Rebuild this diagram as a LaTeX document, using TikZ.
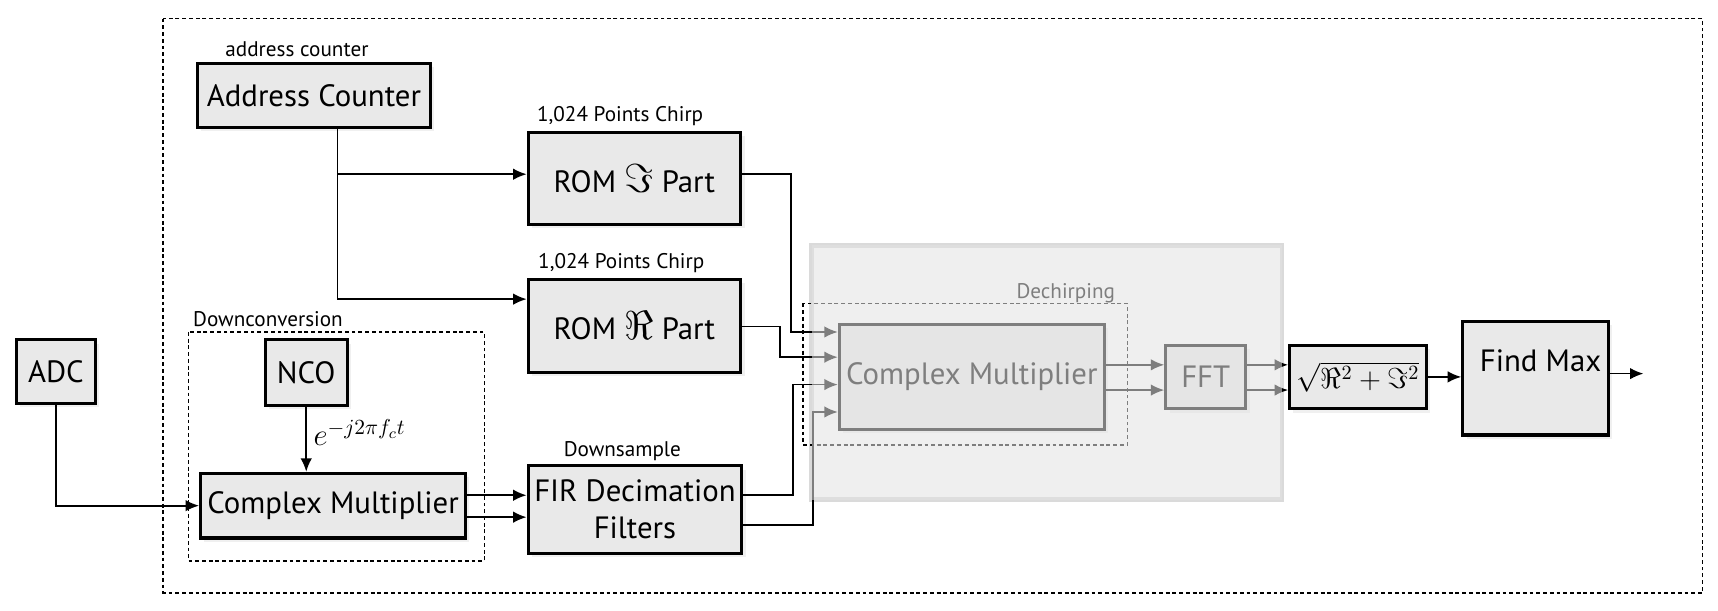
\documentclass[tikz,border=0pt]{standalone}
\usepackage{fix-cm}
\usepackage[no-math]{fontspec}
\setmainfont{PT Sans}
\usetikzlibrary{arrows.meta, shadows}
\definecolor{boxgray}{RGB}{233,233,233}
\definecolor{zonegray}{RGB}{226,226,226}
\definecolor{zoneedge}{RGB}{218,218,218}
\newcommand{\blkfont}{\fontsize{16}{19}\selectfont}
\newcommand{\tagfont}{\fontsize{11}{13}\selectfont}
\newcommand{\bigfrak}[1]{{\fontsize{21}{21}\selectfont$#1$}}

\tikzset{
  blk/.style={draw, line width=1.6pt, fill=boxgray, inner sep=0pt, align=center, font=\blkfont,
    drop shadow={opacity=0.12, shadow xshift=2pt, shadow yshift=-2pt}},
  tag/.style={inner sep=0pt, font=\tagfont},
  wire/.style={-{Latex[length=7pt, width=6pt]}, line width=0.9pt},
  frame/.style={line width=0.8pt, dash pattern=on 2pt off 1.5pt},
}

\begin{document}
\begin{tikzpicture}[x=0.02cm, y=-0.02cm]
\useasboundingbox (0,0) rectangle (1568,557);

% frames
\draw[frame] (149,17) rectangle (1554,541);
\draw[frame] (172,303) rectangle (442,512);
\draw[zoneedge, line width=2.5pt] (741,224) rectangle (1170,456);
\draw[frame] (733,277) rectangle (1029,406);

\node[tag] (actag) at (271,45) {address counter};
\node[tag] (chirpi) at (566,106) {1,024 Points Chirp};
\node[tag] (chirpr) at (567,240) {1,024 Points Chirp};
\node[tag, anchor=west] (downconv) at (176,291) {Downconversion};
\node[tag] (downsmp) at (568,412) {Downsample};
\node[tag, anchor=east] (dechirp) at (1018,268) {Dechirping};

% blocks
\node[blk, minimum width=1.44cm, minimum height=1.16cm] (adc) at (51,339) {ADC};
\node[blk, minimum width=1.50cm, minimum height=1.20cm] (nco) at (279.5,340) {NCO};
\node[blk, minimum width=4.26cm, minimum height=1.16cm] (ac) at (286.5,87) {Address Counter};
\node[blk, minimum width=3.88cm, minimum height=1.68cm] (romi) at (579,163) {ROM \bigfrak{\Im} Part};
\node[blk, minimum width=3.88cm, minimum height=1.70cm] (romr) at (579,297.5) {ROM \bigfrak{\Re} Part};
\node[blk, minimum width=4.84cm, minimum height=1.18cm] (cmd) at (304,461.5) {Complex Multiplier};
\node[blk, minimum width=3.90cm, minimum height=1.60cm] (fir) at (579.5,465) {FIR Decimation\\Filters};
\node[blk, minimum width=4.84cm, minimum height=1.92cm] (cmg) at (887,344) {Complex Multiplier};
\node[blk, minimum width=1.46cm, minimum height=1.16cm] (fft) at (1100.5,344) {FFT};
\node[blk, minimum width=2.50cm, minimum height=1.16cm, font=\fontsize{15}{18}\selectfont] (mag) at (1239.5,344) {$\sqrt{\Re^2+\Im^2}$};
\node[blk, minimum width=2.66cm, minimum height=2.08cm] (fmax) at (1401.5,345) {};
\node[font=\blkfont, inner sep=0pt] (fmaxtxt) at (1406,329) {Find Max};

% wires
\coordinate (fork) at (308,0);
\draw[wire] (ac.south -| fork) |- (romi.west |- 0,159);
\draw[wire] (ac.south -| fork) |- (romr.west |- 0,273);

\draw[wire] (adc.south) |- (cmd.west);
\draw[wire] (nco.south) -- (cmd.north -| nco.south)
  node[pos=0.4, right, font=\blkfont] (phase) {$e^{-j2\pi f_c t}$};
\draw[wire] (cmd.east |- 0,452) -- (fir.west |- 0,452);
\draw[wire] (cmd.east |- 0,472) -- (fir.west |- 0,472);

\draw[wire] (romi.east |- 0,159) -| (722,303) -- (cmg.west |- 0,303);
\draw[wire] (romr.east |- 0,298) -| (712,326) -- (cmg.west |- 0,326);
\draw[wire] (fir.east |- 0,452) -| (724,351) -- (cmg.west |- 0,351);
\draw[wire] (fir.east |- 0,479) -| (742,376) -- (cmg.west |- 0,376);

\draw[wire] (cmg.east |- 0,333) -- (fft.west |- 0,333);
\draw[wire] (cmg.east |- 0,356) -- (fft.west |- 0,356);
\draw[wire] (fft.east |- 0,333) -- (mag.west |- 0,333);
\draw[wire] (fft.east |- 0,356) -- (mag.west |- 0,356);
\draw[wire] (mag.east) -- (fmax.west |- mag.east);
\coordinate (out) at (1500,341);
\draw[wire] (fmax.east |- out) -- (out);

% dechirping zone on top
\fill[zonegray, fill opacity=0.56] (741,224) rectangle (1170,456);

\end{tikzpicture}
\end{document}
